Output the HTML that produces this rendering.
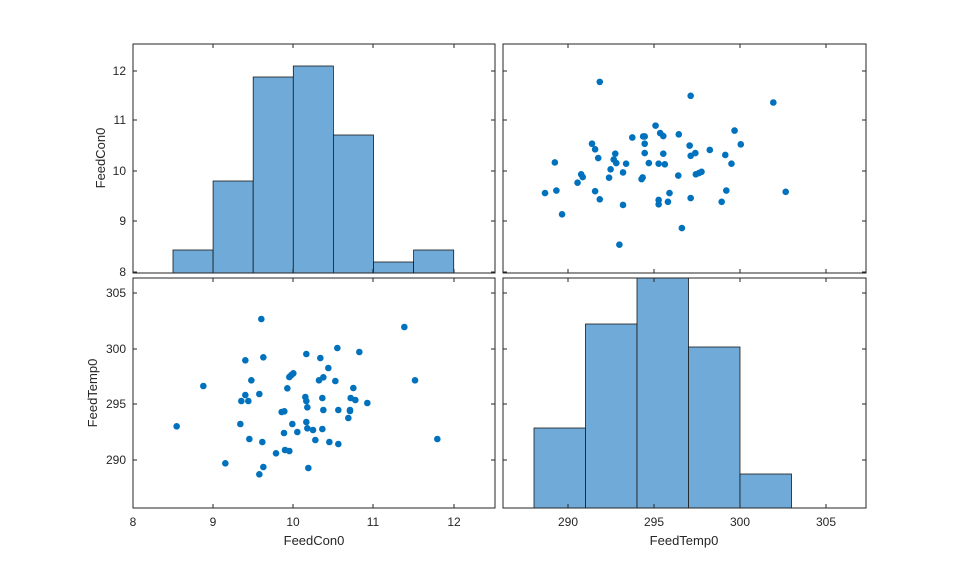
<!DOCTYPE html>
<html><head><style>
html,body{margin:0;padding:0;background:#fff;}
svg text{font-family:"Liberation Sans",sans-serif;fill:#262626;}
</style></head><body>
<svg id="s" width="959" height="577" xmlns="http://www.w3.org/2000/svg">
<rect width="959" height="577" fill="#fff"/>
<g id="g"></g>
</svg>
<script>
const g=document.getElementById('g');let h='';
const pts=[[140,454],[220,333],[286,565],[346,256],[400,247],[394,132],[364,316],[346,360],[388,357],[334,378],[355,378],[331,447],[358,492],[397,501],[388,598],[400,576],[438,535],[465,525],[478,528],[462,474],[487,447],[502,471],[455,411],[463,409],[472,340],[478,306],[484,300],[490,295],[529,237],[571,249],[622,219],[688,231],[595,279],[567,316],[580,307],[616,318],[670,339],[662,369],[676,375],[712,384],[660,405],[660,408],[625,405],[655,429],[580,405],[577,369],[526,366],[529,378],[532,397],[529,441],[532,460],[549,465],[577,462],[556,495],[598,501],[625,507],[535,579],[823,156],[855,316],[922,492]];
const fill='#6FAAD8';
function rect(x1,y1,x2,y2){h+=`<rect x="${x1}" y="${y1}" width="${x2-x1}" height="${y2-y1}" fill="${fill}" stroke="#1a1a1a" stroke-width="0.8"/>`;}
// top-left hist
const tl=[250,181,77,66,135,262,250];
tl.forEach((t,i)=>rect(173+i*40.1,t,173+(i+1)*40.1,273));
// bottom-right hist
const bx=[534,585.5,637,688.5,740,791.5],bt=[428,324,278,347,474];
bt.forEach((t,i)=>rect(bx[i],t,bx[i+1],508));
// scatter bottom-left
pts.forEach(p=>{const x=p[0]/3+130,y=p[1]/3+275;h+=`<circle cx="${x}" cy="${y}" r="3.3" fill="#0072BD"/>`;
 const fc=8+(x-133)/80.2, ft=305-(y-293)/11.1;
 const X=568+(ft-290)*17.2, Y=272-(fc-8)*50.1;
 h+=`<circle cx="${X}" cy="${Y}" r="3.3" fill="#0072BD"/>`;});
// axes
const ax=[[133,44,495,273],[503,44,866,273],[133,278,495,508],[503,278,866,508]];
const xt1=[133,213,293,373,454],xt2=[568,654,740,826],yt1=[71,120,171,221,272],yt2=[293,349,404,460];
function ticks(a,xs,ys){const[x1,y1,x2,y2]=a;
 xs.forEach(x=>{h+=`<line x1="${x}" y1="${y2}" x2="${x}" y2="${y2-4}" stroke="#262626"/><line x1="${x}" y1="${y1}" x2="${x}" y2="${y1+4}" stroke="#262626"/>`;});
 ys.forEach(y=>{h+=`<line x1="${x1}" y1="${y}" x2="${x1+4}" y2="${y}" stroke="#262626"/><line x1="${x2}" y1="${y}" x2="${x2-4}" y2="${y}" stroke="#262626"/>`;});
 h+=`<rect x="${x1}" y="${y1}" width="${x2-x1}" height="${y2-y1}" fill="none" stroke="#262626" stroke-width="1"/>`;}
ticks(ax[0],xt1,yt1);ticks(ax[1],xt2,yt1);ticks(ax[2],xt1,yt2);ticks(ax[3],xt2,yt2);
// labels
['8','9','10','11','12'].forEach((t,i)=>{h+=`<text x="${xt1[i]}" y="526" font-size="12" text-anchor="middle">${t}</text>`;});
['290','295','300','305'].forEach((t,i)=>{h+=`<text x="${xt2[i]}" y="526" font-size="12" text-anchor="middle">${t}</text>`;});
['12','11','10','9','8'].forEach((t,i)=>{h+=`<text x="126" y="${yt1[i]+4}" font-size="12" text-anchor="end">${t}</text>`;});
['305','300','295','290'].forEach((t,i)=>{h+=`<text x="126" y="${yt2[i]+4}" font-size="12" text-anchor="end">${t}</text>`;});
h+=`<text x="314" y="545" font-size="13" text-anchor="middle">FeedCon0</text>`;
h+=`<text x="684" y="545" font-size="13" text-anchor="middle">FeedTemp0</text>`;
h+=`<text transform="translate(105,158) rotate(-90)" font-size="13" text-anchor="middle">FeedCon0</text>`;
h+=`<text transform="translate(97,393) rotate(-90)" font-size="13" text-anchor="middle">FeedTemp0</text>`;
g.innerHTML=h;
</script>
</body></html>
